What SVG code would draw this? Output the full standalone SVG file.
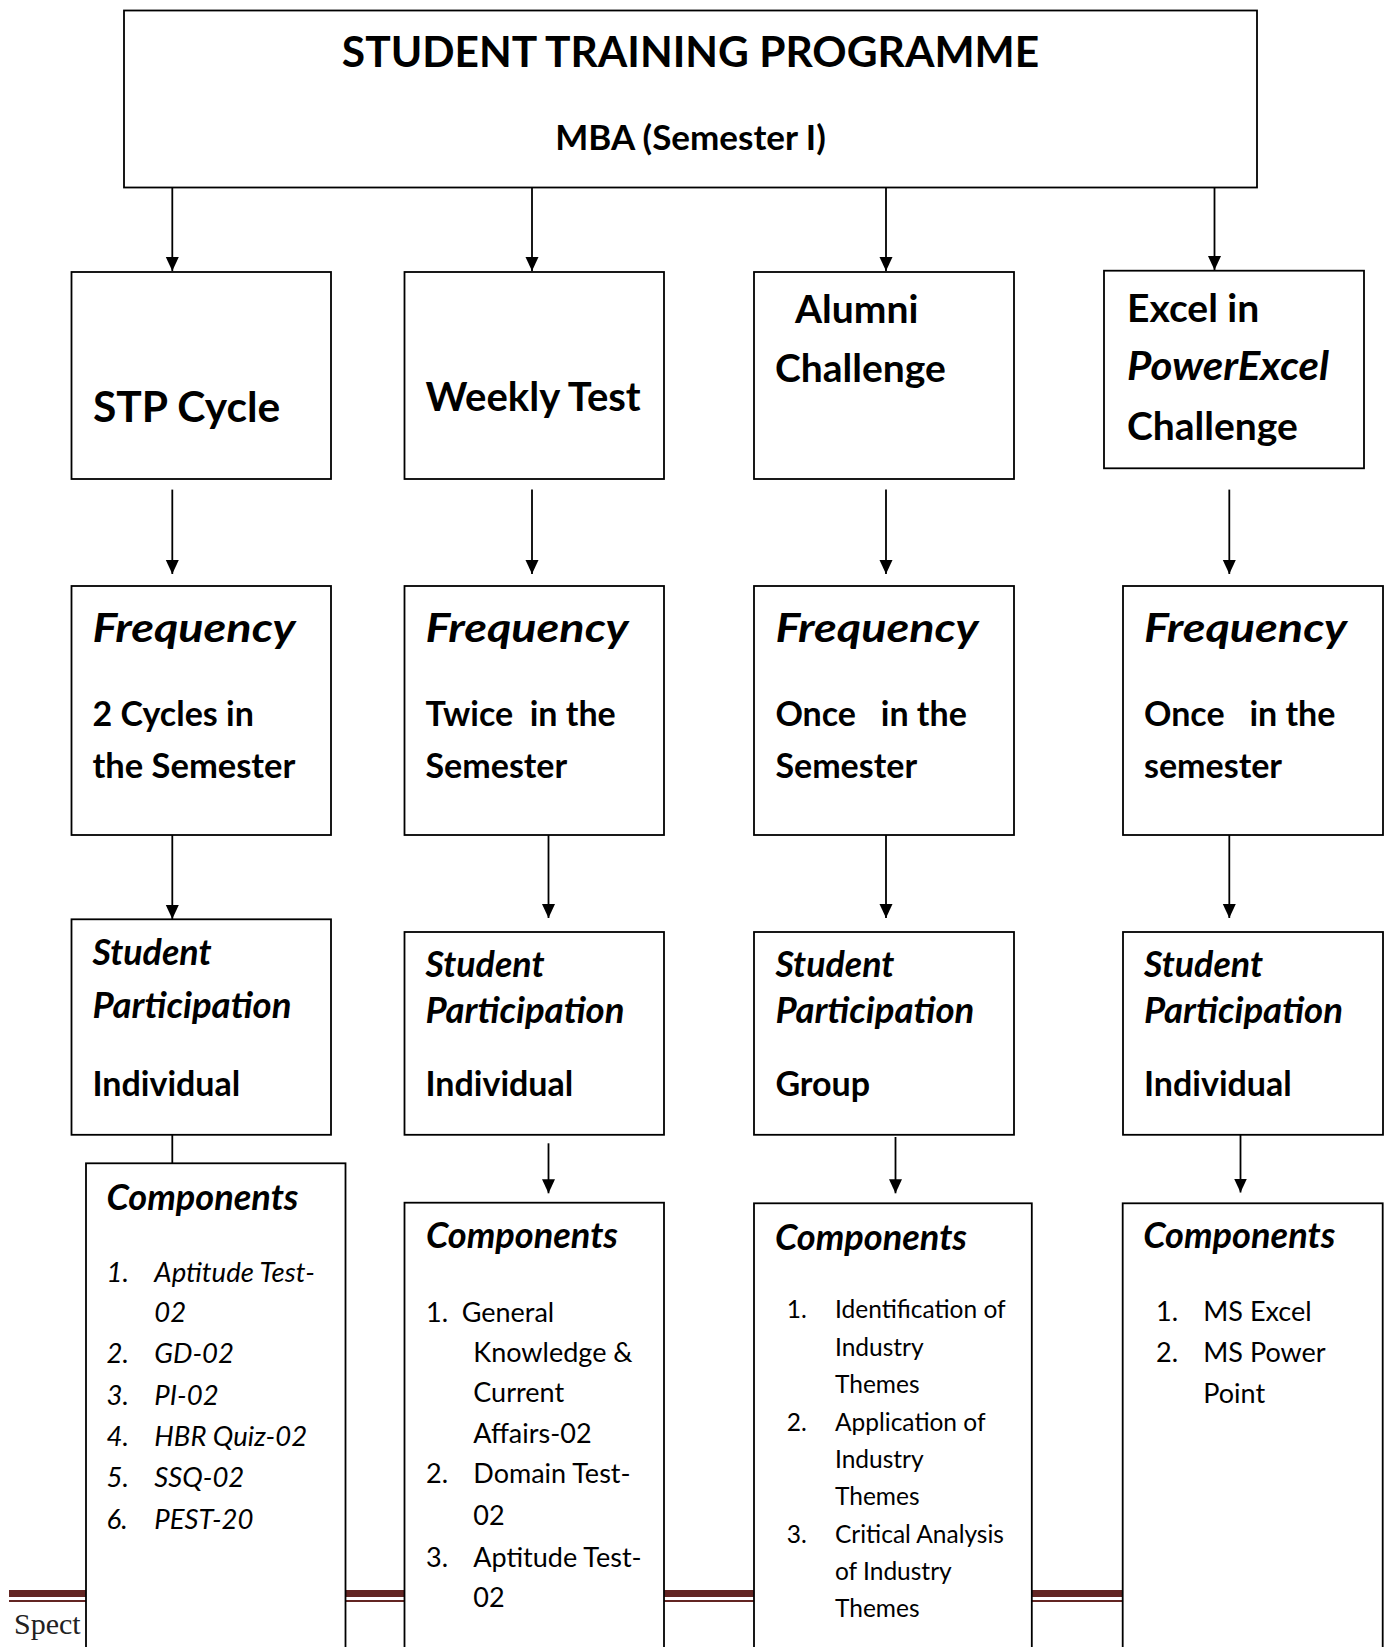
<svg xmlns="http://www.w3.org/2000/svg" width="1389" height="1647" viewBox="0 0 1389 1647">
<style>
text{font-family:Lato,"Open Sans","Liberation Sans",sans-serif;fill:#000}
.b{font-weight:700}
.bi{font-weight:700;font-style:italic}
.i{font-style:italic}
.fq{font-weight:700;font-style:italic;font-size:41px}
.sp{font-weight:700;font-style:italic;font-size:36px}
.box{fill:#fff;stroke:#000;stroke-width:1.8}
.ln{fill:none;stroke:#000;stroke-width:1.8}
.foot{fill:#632523}
</style>
<defs>
<marker id="ah" markerUnits="userSpaceOnUse" markerWidth="14" markerHeight="14" refX="14" refY="7" orient="auto">
<path d="M0,0.5 L14,7 L0,13.5 Z" fill="#000"/>
</marker>
</defs>
<g id="footer">
<rect class="foot" x="9" y="1590" width="1372" height="7"/>
<rect class="foot" x="9" y="1600" width="1372" height="2"/>
<text x="14" y="1634" style="font-family:'Liberation Serif',serif;font-size:30px;fill:#222">Spect</text>
</g>
<g id="connectors">
<path class="ln" d="M172.3,187.5 V271" marker-end="url(#ah)"/>
<path class="ln" d="M532,187.5 V271" marker-end="url(#ah)"/>
<path class="ln" d="M886,187.5 V271" marker-end="url(#ah)"/>
<path class="ln" d="M1214.5,187.5 V270" marker-end="url(#ah)"/>
<path class="ln" d="M172.3,489.6 V574" marker-end="url(#ah)"/>
<path class="ln" d="M532,489.6 V574" marker-end="url(#ah)"/>
<path class="ln" d="M886,489.6 V574" marker-end="url(#ah)"/>
<path class="ln" d="M1229.3,489.6 V574" marker-end="url(#ah)"/>
<path class="ln" d="M172.3,835 V919" marker-end="url(#ah)"/>
<path class="ln" d="M548.5,835 V918" marker-end="url(#ah)"/>
<path class="ln" d="M886,835 V918" marker-end="url(#ah)"/>
<path class="ln" d="M1229.3,835 V918" marker-end="url(#ah)"/>
<path class="ln" d="M172.3,1134.8 V1163.3"/>
<path class="ln" d="M548.5,1143.3 V1193.3" marker-end="url(#ah)"/>
<path class="ln" d="M895.5,1137 V1193.3" marker-end="url(#ah)"/>
<path class="ln" d="M1240.5,1135 V1192.5" marker-end="url(#ah)"/>
</g>
<g id="title">
<rect class="box" x="124" y="10.5" width="1133" height="177"/>
<text class="b" x="690.5" y="67" text-anchor="middle" style="font-size:42.5px">STUDENT TRAINING PROGRAMME</text>
<text class="b" x="690.5" y="150" text-anchor="middle" style="font-size:35px">MBA (Semester I)</text>
</g>
<g id="stp-cycle">
<rect class="box" x="71.5" y="272" width="259.5" height="207"/>
<text class="b" x="93" y="421.7" style="font-size:42.5px">STP Cycle</text>
</g>
<g id="weekly-test">
<rect class="box" x="404.5" y="272" width="259.5" height="207"/>
<text class="b" x="425.5" y="411" style="font-size:40px">Weekly Test</text>
</g>
<g id="alumni-challenge">
<rect class="box" x="754" y="272" width="260" height="207"/>
<text class="b" x="795" y="323" style="font-size:39px">Alumni</text>
<text class="b" x="775" y="382" style="font-size:39px">Challenge</text>
</g>
<g id="excel-challenge">
<rect class="box" x="1104" y="270.7" width="260" height="197.6"/>
<text class="b" x="1127" y="322" style="font-size:39px">Excel in</text>
<text class="bi" x="1127" y="380" style="font-size:40px" textLength="202" lengthAdjust="spacingAndGlyphs">PowerExcel</text>
<text class="b" x="1127" y="440" style="font-size:39px">Challenge</text>
</g>
<g id="freq-stp">
<rect class="box" x="71.5" y="586" width="259.5" height="249"/>
<text class="fq" x="92.5" y="641.7" textLength="203" lengthAdjust="spacingAndGlyphs">Frequency</text>
<text class="b" x="92.5" y="726" style="font-size:34px">2 Cycles in</text>
<text class="b" x="92.5" y="778" style="font-size:34.5px">the Semester</text>
</g>
<g id="freq-weekly">
<rect class="box" x="404.5" y="586" width="259.5" height="249"/>
<text class="fq" x="425.5" y="641.7" textLength="203" lengthAdjust="spacingAndGlyphs">Frequency</text>
<text class="b" x="425.5" y="726" style="font-size:34px">Twice&#160; in the</text>
<text class="b" x="425.5" y="778" style="font-size:34px">Semester</text>
</g>
<g id="freq-alumni">
<rect class="box" x="754" y="586" width="260" height="249"/>
<text class="fq" x="775.4" y="641.7" textLength="203" lengthAdjust="spacingAndGlyphs">Frequency</text>
<text class="b" x="775.4" y="726" style="font-size:34px">Once&#160;&#160; in the</text>
<text class="b" x="775.4" y="778" style="font-size:34px">Semester</text>
</g>
<g id="freq-excel">
<rect class="box" x="1123" y="586" width="260" height="249"/>
<text class="fq" x="1144" y="641.7" textLength="203" lengthAdjust="spacingAndGlyphs">Frequency</text>
<text class="b" x="1144" y="726" style="font-size:34px">Once&#160;&#160; in the</text>
<text class="b" x="1144" y="778" style="font-size:34px">semester</text>
</g>
<g id="part-stp">
<rect class="box" x="71.5" y="919.3" width="259.5" height="215.5"/>
<text class="sp" x="92.5" y="965" textLength="119" lengthAdjust="spacingAndGlyphs">Student</text>
<text class="sp" x="92.5" y="1018" textLength="199" lengthAdjust="spacingAndGlyphs">Participation</text>
<text class="b" x="92.5" y="1096" style="font-size:34px">Individual</text>
</g>
<g id="part-weekly">
<rect class="box" x="404.5" y="932" width="259.5" height="202.8"/>
<text class="sp" x="425.5" y="977" textLength="119" lengthAdjust="spacingAndGlyphs">Student</text>
<text class="sp" x="425.5" y="1023" textLength="199" lengthAdjust="spacingAndGlyphs">Participation</text>
<text class="b" x="425.5" y="1096" style="font-size:34px">Individual</text>
</g>
<g id="part-alumni">
<rect class="box" x="754" y="932" width="260" height="202.8"/>
<text class="sp" x="775.4" y="977" textLength="119" lengthAdjust="spacingAndGlyphs">Student</text>
<text class="sp" x="775.4" y="1023" textLength="199" lengthAdjust="spacingAndGlyphs">Participation</text>
<text class="b" x="775.4" y="1096" style="font-size:34px">Group</text>
</g>
<g id="part-excel">
<rect class="box" x="1123" y="932" width="260" height="202.8"/>
<text class="sp" x="1144" y="977" textLength="119" lengthAdjust="spacingAndGlyphs">Student</text>
<text class="sp" x="1144" y="1023" textLength="199" lengthAdjust="spacingAndGlyphs">Participation</text>
<text class="b" x="1144" y="1096" style="font-size:34px">Individual</text>
</g>
<g id="comp-stp">
<rect class="box" x="86" y="1163.3" width="259.5" height="500"/>
<text class="sp" x="106.5" y="1210" textLength="192" lengthAdjust="spacingAndGlyphs">Components</text>
<g style="font-size:27.5px">
<text class="i" x="106.5" y="1281.7">1.</text><text class="i" x="154.3" y="1281.7">Aptitude Test-</text>
<text class="i" x="154.3" y="1322">02</text>
<text class="i" x="106.5" y="1363.3">2.</text><text class="i" x="154.3" y="1363.3">GD-02</text>
<text class="i" x="106.5" y="1404.6">3.</text><text class="i" x="154.3" y="1404.6">PI-02</text>
<text class="i" x="106.5" y="1446">4.</text><text class="i" x="154.3" y="1446">HBR Quiz-02</text>
<text class="i" x="106.5" y="1487.3">5.</text><text class="i" x="154.3" y="1487.3">SSQ-02</text>
<text class="i" x="106.5" y="1528.6">6.</text><text class="i" x="154.3" y="1528.6">PEST-20</text>
</g>
</g>
<g id="comp-weekly">
<rect class="box" x="404.5" y="1202.7" width="259.5" height="460"/>
<text class="sp" x="426" y="1248.3" textLength="192" lengthAdjust="spacingAndGlyphs">Components</text>
<g style="font-size:27px">
<text x="426" y="1321.7">1.</text><text x="461.7" y="1321.7">General</text>
<text x="473.3" y="1361.7">Knowledge &amp;</text>
<text x="473.3" y="1401.7">Current</text>
<text x="473.3" y="1443.3">Affairs-02</text>
<text x="426" y="1483.3">2.</text><text x="473.3" y="1483.3">Domain Test-</text>
<text x="473.3" y="1525">02</text>
<text x="426" y="1566.7">3.</text><text x="473.3" y="1566.7">Aptitude Test-</text>
<text x="473.3" y="1606.7">02</text>
</g>
</g>
<g id="comp-alumni">
<rect class="box" x="754" y="1203.3" width="277.8" height="460"/>
<text class="sp" x="775" y="1250" textLength="192" lengthAdjust="spacingAndGlyphs">Components</text>
<g style="font-size:24.5px">
<text x="786.7" y="1318.3">1.</text><text x="835" y="1318.3">Identification of</text>
<text x="835" y="1355.6">Industry</text>
<text x="835" y="1393">Themes</text>
<text x="786.7" y="1430.7">2.</text><text x="835" y="1430.7">Application of</text>
<text x="835" y="1468">Industry</text>
<text x="835" y="1505.3">Themes</text>
<text x="786.7" y="1542.7">3.</text><text x="835" y="1542.7">Critical Analysis</text>
<text x="835" y="1580">of Industry</text>
<text x="835" y="1617.3">Themes</text>
</g>
</g>
<g id="comp-excel">
<rect class="box" x="1122.7" y="1203.3" width="260" height="460"/>
<text class="sp" x="1143.3" y="1248.3" textLength="192" lengthAdjust="spacingAndGlyphs">Components</text>
<g style="font-size:27px">
<text x="1156" y="1321">1.</text><text x="1203.3" y="1321">MS Excel</text>
<text x="1156" y="1361.7">2.</text><text x="1203.3" y="1361.7">MS Power</text>
<text x="1203.3" y="1402.7">Point</text>
</g>
</g>
</svg>
